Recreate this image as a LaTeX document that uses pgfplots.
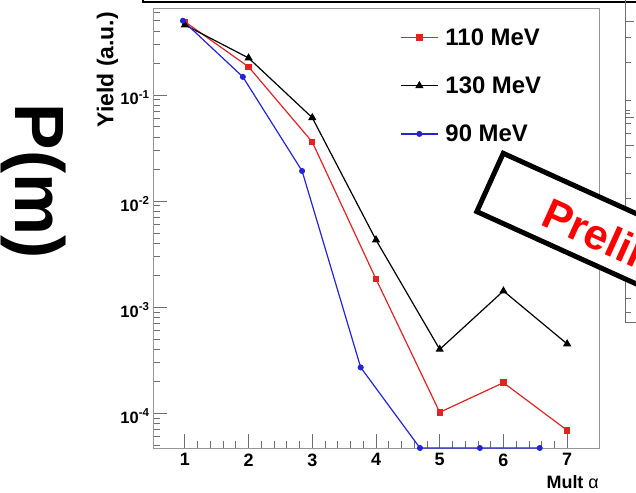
\documentclass[border=0pt]{standalone}
\usepackage{pgfplots}
\pgfplotsset{compat=1.18}
\usepackage{fontspec}
\setmainfont{Liberation Sans}

\definecolor{rootred}{RGB}{225,35,35}
\definecolor{rootblue}{RGB}{35,35,215}
\definecolor{framegray}{RGB}{150,150,150}
\definecolor{tickgray}{RGB}{110,110,110}

\newcommand{\fs}[1]{\fontsize{#1}{#1}\selectfont}

\begin{document}
\begin{tikzpicture}

% box edge of the panel above
\draw[line width=2.5bp] (143bp,500bp) -- (143bp,491bp) -- (650bp,491bp);

% edge of the neighbouring panel on the right
\draw[tickgray, line width=0.9bp] (625bp,500bp) -- (625bp,171bp) -- (640bp,171bp);
\foreach \t/\l in {21/9,37/6,62/6,100/6,110/5,113/5,117/9,123/6,133/6,145/9,157/6,173/6,198/6,298/6,312/6}
  \draw[tickgray, line width=0.8bp] (625bp,493bp-\t bp) -- ++(\l bp,0);

\begin{axis}[
    at={(153bp,45bp)}, anchor=south west,
    width=446bp, height=440bp, scale only axis,
    xmin=0.5, xmax=7.5,
    ymode=log, ymin=4.7e-5, ymax=0.66,
    xtick={1,2,3,4,5,6,7},
    minor x tick num=4,
    ytick={1e-4,1e-3,1e-2,1e-1},
    yticklabels={10\textsuperscript{-4},10\textsuperscript{-3},10\textsuperscript{-2},10\textsuperscript{-1}},
    minor ytick={5e-5,6e-5,7e-5,8e-5,9e-5,
                 2e-4,3e-4,4e-4,5e-4,6e-4,7e-4,8e-4,9e-4,
                 2e-3,3e-3,4e-3,5e-3,6e-3,7e-3,8e-3,9e-3,
                 2e-2,3e-2,4e-2,5e-2,6e-2,7e-2,8e-2,9e-2,
                 2e-1,3e-1,4e-1,5e-1,6e-1},
    tick pos=left, tick align=inside,
    major tick length=14bp, minor tick length=7bp,
    tick style={draw=tickgray, line width=0.8bp},
    axis line style={draw=framegray, line width=0.8bp},
    /pgf/number format/assume math mode=true,
    xticklabel style={font=\bfseries\fs{18}, yshift=-2bp},
    yticklabel style={font=\bfseries\fs{16.5}, yshift=-3bp},
    xlabel={Mult {\mdseries α}},
    xlabel style={at={(axis description cs:1,-0.063)}, anchor=north east, inner sep=0pt, font=\bfseries\fs{18}},
    ylabel={Yield (a.u.)},
    ylabel style={at={(axis description cs:-0.078,0.991)}, anchor=south east, inner sep=0pt, font=\bfseries\fs{23}},
    clip=false,
    legend cell align=left,
    legend style={at={(axis description cs:0.554,0.954)}, anchor=north west,
        draw=none, fill=none, inner sep=0pt, row sep=30bp, column sep=7bp,
        nodes={inner sep=0pt}, font=\bfseries\fs{24}},
    legend image code/.code={\draw[mark repeat=2, mark phase=2, #1] plot coordinates {(0bp,0bp) (18.5bp,0bp) (37bp,0bp)};},
]
% 110 MeV
\addplot[rootred, line width=1.2bp, mark=square*, mark size=2.6bp] coordinates {
    (1,0.49) (2,0.184) (3,0.036) (4,1.84e-3) (5,1.02e-4) (6,1.94e-4) (7,6.9e-5)
};
% 130 MeV
\addplot[black, line width=1.2bp, mark=triangle*, mark size=3.6bp] coordinates {
    (1,0.457) (2,0.223) (3,0.061) (4,4.3e-3) (5,4.0e-4) (6,1.42e-3) (7,4.5e-4)
};
% 90 MeV
\addplot[rootblue, line width=1.2bp, mark=*, mark size=2.4bp] coordinates {
    (0.97,0.50) (1.91,0.148) (2.84,0.0192) (3.76,2.7e-4) (4.69,4.7e-5) (5.63,4.7e-5) (6.57,4.7e-5)
};
\legend{110 MeV, 130 MeV, 90 MeV}
\end{axis}

% big axis title on the left
\node[rotate=-90, anchor=base, inner sep=0pt, font=\bfseries\fs{70}] at (15bp,312bp) {P(m)};

% preliminary stamp
\begin{scope}[shift={(502bp,343bp)}, rotate=-24.4]
\draw[line width=5bp, fill=white] (2.5bp,-2.5bp) rectangle (420bp,-66.5bp);
\node[transform shape, anchor=base west, inner sep=0pt, text=red, font=\bfseries\fs{43}] at (65bp,-52.6bp) {Preliminary};
\end{scope}

\pgfresetboundingbox
\useasboundingbox (0,0) rectangle (636bp,493bp);
\end{tikzpicture}
\end{document}
